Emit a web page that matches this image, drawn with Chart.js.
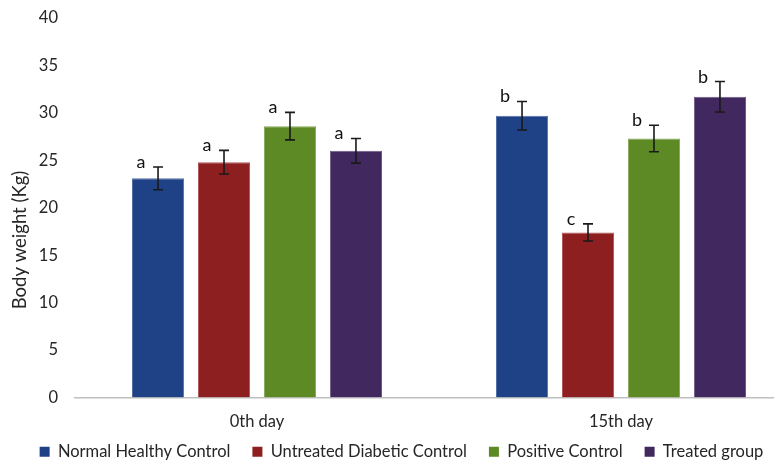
<!DOCTYPE html>
<html>
<head>
<meta charset="utf-8">
<script src="https://cdn.jsdelivr.net/npm/chart.js@4.4.1/dist/chart.umd.min.js"></script>
<style>
  html, body { margin: 0; padding: 0; background: #fff; overflow: hidden; }
  #wrap { width: 806px; height: 462px; position: relative; }
</style>
</head>
<body>
<div id="wrap"><canvas id="c"></canvas></div>
<script>
// Body weight per group, day 0 and day 15
const days = ['0th day', '15th day'];
const groups = ['Normal Healthy Control', 'Untreated Diabetic Control', 'Positive Control', 'Treated group'];
const normalHealthy = [23.1, 29.7];
const untreatedDiabetic = [24.8, 17.4];
const positiveControl = [28.6, 27.3];
const treatedGroup = [26.0, 31.7];
// standard error (±)
const normalHealthyErr = [1.2, 1.5];
const untreatedDiabeticErr = [1.25, 0.9];
const positiveControlErr = [1.45, 1.4];
const treatedGroupErr = [1.3, 1.6];
// significance letters
const normalHealthyLetters = ['a', 'b'];
const untreatedDiabeticLetters = ['a', 'c'];
const positiveControlLetters = ['a', 'b'];
const treatedGroupLetters = ['a', 'b'];
const yTicks = { min: 0, max: 40, step: 5 };

const colors = ['#1F4287', '#8E1F20', '#5E8A25', '#41295F'];
const edgeColors = ['#5470A8', '#B05454', '#86A85A', '#6C5A88'];
const values = [normalHealthy, untreatedDiabetic, positiveControl, treatedGroup];
const errors = [normalHealthyErr, untreatedDiabeticErr, positiveControlErr, treatedGroupErr];
const letters = [normalHealthyLetters, untreatedDiabeticLetters, positiveControlLetters, treatedGroupLetters];

const FONT = 'Lato, "Open Sans", sans-serif';
const TEXT = '#262626';

// error bars with caps plus the significance letter beside each cap
const errorBarPlugin = {
  id: 'errorBars',
  afterDatasetsDraw(chart) {
    const ctx = chart.ctx;
    const y = chart.scales.y;
    chart.data.datasets.forEach((ds, di) => {
      const meta = chart.getDatasetMeta(di);
      meta.data.forEach((bar, i) => {
        const v = ds.data[i];
        const e = errors[di][i];
        const x = bar.x;
        const yt = y.getPixelForValue(v + e);
        const yb = y.getPixelForValue(v - e);
        ctx.save();
        ctx.strokeStyle = '#1a1a1a';
        ctx.lineWidth = 1.6;
        ctx.beginPath();
        ctx.moveTo(x, yt); ctx.lineTo(x, yb);
        ctx.moveTo(x - 5, yt); ctx.lineTo(x + 5, yt);
        ctx.moveTo(x - 5, yb); ctx.lineTo(x + 5, yb);
        ctx.stroke();
        ctx.fillStyle = '#111';
        ctx.font = '18px ' + FONT;
        ctx.textAlign = 'center';
        ctx.textBaseline = 'alphabetic';
        ctx.fillText(letters[di][i], x - 17, yt + 1);
        ctx.restore();
      });
    });
  }
};

// y axis title placed beside the tick labels
const yTitlePlugin = {
  id: 'yTitle',
  afterDraw(chart) {
    const ctx = chart.ctx;
    ctx.save();
    ctx.translate(20, 240);
    ctx.rotate(-Math.PI / 2);
    ctx.font = '18.5px ' + FONT;
    ctx.fillStyle = TEXT;
    ctx.textAlign = 'center';
    ctx.textBaseline = 'middle';
    ctx.fillText('Body weight (Kg)', 0, 0);
    ctx.restore();
  }
};

// pull the legend row up closer to the category labels
const legendShift = {
  id: 'legendShift',
  afterLayout(chart) {
    const lg = chart.legend;
    if (lg) { lg.top -= 10; lg.bottom -= 10; }
  }
};

new Chart(document.getElementById('c'), {
  type: 'bar',
  data: {
    labels: days,
    datasets: groups.map((g, i) => ({
      label: g,
      data: values[i],
      backgroundColor: colors[i],
      borderColor: edgeColors[i],
      borderWidth: 1,
      categoryPercentage: 0.725,
      barPercentage: 0.79
    }))
  },
  options: {
    responsive: true,
    maintainAspectRatio: false,
    animation: false,
    layout: { padding: { top: 18, right: 3, bottom: -18, left: 0 } },
    plugins: {
      legend: {
        position: 'bottom',
        labels: {
          boxWidth: 10, boxHeight: 10, padding: 22,
          color: TEXT,
          font: { family: FONT, size: 16.5 },
          generateLabels(chart) {
            return chart.data.datasets.map((ds, i) => ({
              text: ds.label,
              fillStyle: colors[i],
              strokeStyle: colors[i],
              lineWidth: 0,
              fontColor: TEXT,
              datasetIndex: i,
              hidden: false
            }));
          }
        }
      },
      tooltip: { enabled: false }
    },
    scales: {
      x: {
        grid: { display: false, drawTicks: false },
        border: { color: '#BFBFBF', width: 1.5 },
        ticks: { color: TEXT, font: { family: FONT, size: 16.5 }, padding: 14 },
        afterFit(scale) { scale.height = 34; }
      },
      y: {
        min: yTicks.min, max: yTicks.max,
        ticks: { stepSize: yTicks.step, color: TEXT, font: { family: FONT, size: 16.5 }, padding: 17 },
        grid: { display: false, drawTicks: false },
        border: { display: false },
        afterFit(scale) {
          scale.width = 75;
          scale.paddingTop = 8;
          scale.paddingBottom = 8;
        }
      }
    }
  },
  plugins: [errorBarPlugin, yTitlePlugin, legendShift]
});
</script>
</body>
</html>
